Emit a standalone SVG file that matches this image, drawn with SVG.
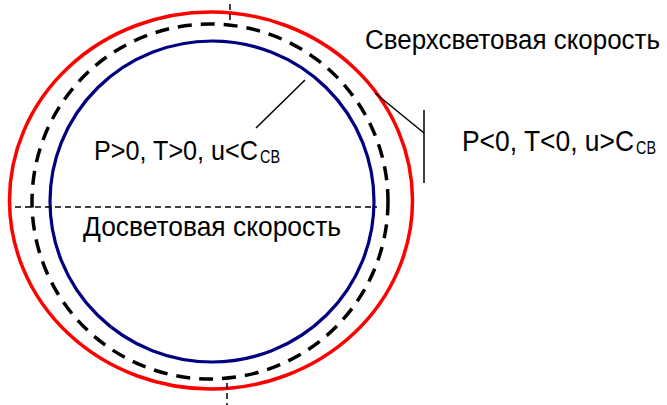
<svg xmlns="http://www.w3.org/2000/svg" width="667" height="405" viewBox="0 0 667 405">
<style>
.t{font-family:"Liberation Sans",Arial,sans-serif;fill:#000}
.ln{stroke:#000;stroke-width:1.5;fill:none}
.axis{stroke:#000;stroke-width:1.5;stroke-dasharray:6 4;fill:none}
</style>
<rect width="667" height="405" fill="#fff"/>
<g id="outer-red">
<ellipse cx="211" cy="200.5" rx="201.5" ry="188.5" fill="none" stroke="#ff0000" stroke-width="3.5"/>
</g>
<g id="dashed-boundary">
<ellipse cx="210" cy="201.5" rx="178" ry="177.5" fill="none" stroke="#000" stroke-width="3.5" stroke-dasharray="14 9"/>
</g>
<g id="inner-blue">
<ellipse cx="212" cy="201.5" rx="162" ry="160.5" fill="none" stroke="#000080" stroke-width="3.2"/>
</g>
<g id="axes">
<line class="axis" x1="15" y1="207" x2="377" y2="207"/>
<line class="axis" x1="230" y1="4" x2="230" y2="26"/>
<line class="axis" x1="227" y1="383" x2="227" y2="405"/>
</g>
<g id="connectors">
<line class="ln" x1="305" y1="80" x2="256" y2="128"/>
<line class="ln" x1="375" y1="93" x2="424" y2="133"/>
<line class="ln" x1="424" y1="110" x2="424" y2="183"/>
</g>
<g id="label-superluminal">
<text class="t" x="365" y="49" font-size="27" textLength="295" lengthAdjust="spacingAndGlyphs">Сверхсветовая скорость</text>
</g>
<g id="label-outer-cond">
<text class="t" x="462" y="151" font-size="29" textLength="172" lengthAdjust="spacingAndGlyphs">P&lt;0, T&lt;0, u&gt;C</text>
<text class="t" x="636" y="154" font-size="18" textLength="20" lengthAdjust="spacingAndGlyphs">CB</text>
</g>
<g id="label-inner-cond">
<text class="t" x="94" y="160" font-size="28" textLength="164" lengthAdjust="spacingAndGlyphs">P&gt;0, T&gt;0, u&lt;C</text>
<text class="t" x="260" y="163" font-size="18" textLength="20" lengthAdjust="spacingAndGlyphs">CB</text>
</g>
<g id="label-subluminal">
<text class="t" x="83" y="236" font-size="28" textLength="258" lengthAdjust="spacingAndGlyphs">Досветовая скорость</text>
</g>
</svg>
